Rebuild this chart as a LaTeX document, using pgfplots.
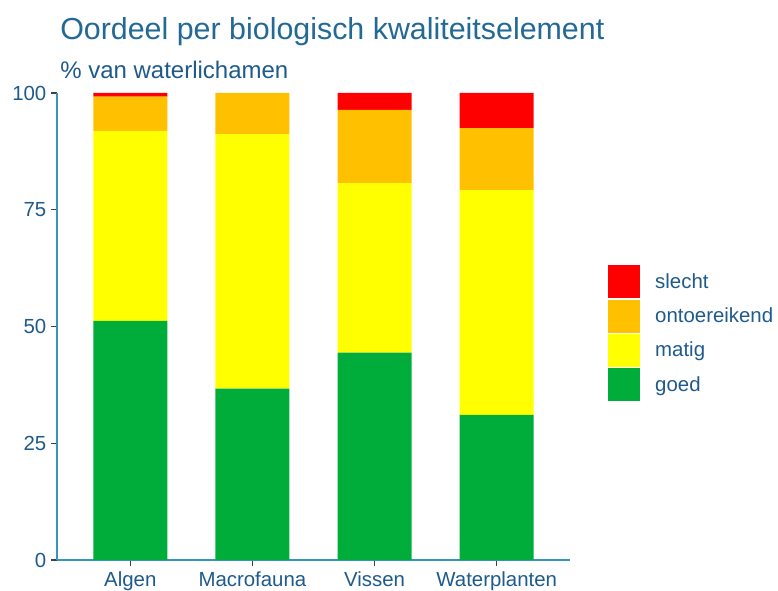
\documentclass[border=0pt]{standalone}
\usepackage{pgfplots}
\pgfplotsset{compat=1.18}
\usepackage{fontspec}
\setmainfont{Liberation Sans}
\definecolor{cgoed}{RGB}{0,173,58}
\definecolor{cmatig}{RGB}{255,255,0}
\definecolor{contoer}{RGB}{255,192,0}
\definecolor{cslecht}{RGB}{255,0,0}
\definecolor{axisblue}{RGB}{50,150,190}
\definecolor{txtblue}{RGB}{30,90,140}
\definecolor{titleblue}{RGB}{35,105,150}
\begin{document}
\begin{tikzpicture}
\useasboundingbox (0pt,0pt) rectangle (583.5pt,443.25pt);
\begin{axis}[
  at={(42.75pt,23.25pt)}, anchor=south west,
  width=384.75pt, height=350.25pt, scale only axis,
  ybar stacked, bar width=55.5pt,
  xmin=-0.6, xmax=3.6, ymin=0, ymax=100,
  axis x line*=bottom, axis y line*=left,
  xtick={0,1,2,3}, xticklabels={Algen,Macrofauna,Vissen,Waterplanten},
  ytick={0,25,50,75,100},
  tick align=outside, major tick length=4.5pt,
  tick style={black!75, line width=0.8pt},
  axis line style={axisblue, line width=1pt},
  tick label style={font=\fontsize{15.3}{15.3}\selectfont, text=txtblue},
  xticklabel style={yshift=-0.5pt},
  /pgf/number format/assume math mode=true,
  reverse legend,
  legend cell align=left,
  legend image code/.code={\fill (0pt,-12.4pt) rectangle (24pt,12.4pt);},
  legend style={at={(axis description cs:1.074,0.632)}, anchor=north west,
    draw=none, fill=none, inner sep=0pt, row sep=1pt,
    font=\fontsize{15.3}{15.3}\selectfont, text=txtblue,
    nodes={inner sep=0pt},
    /tikz/every odd column/.append style={column sep=11.25pt}},
]
\addplot[fill=cgoed, draw=none] coordinates {(0,51.2) (1,36.7) (2,44.4) (3,31.1)};
\addlegendentry{goed}
\addplot[fill=cmatig, draw=none] coordinates {(0,40.7) (1,54.5) (2,36.3) (3,48.1)};
\addlegendentry{matig}
\addplot[fill=contoer, draw=none] coordinates {(0,7.3) (1,8.8) (2,15.7) (3,13.3)};
\addlegendentry{ontoereikend}
\addplot[fill=cslecht, draw=none] coordinates {(0,0.8) (1,0) (2,3.6) (3,7.5)};
\addlegendentry{slecht}
\end{axis}
\node[anchor=base west, inner sep=0pt, text=titleblue, font=\fontsize{22.8}{22.8}\selectfont] at (45pt,413.25pt) {Oordeel per biologisch kwaliteitselement};
\node[anchor=base west, inner sep=0pt, text=txtblue, font=\fontsize{18}{18}\selectfont] at (45pt,384pt) {\% van waterlichamen};
\end{tikzpicture}
\end{document}
